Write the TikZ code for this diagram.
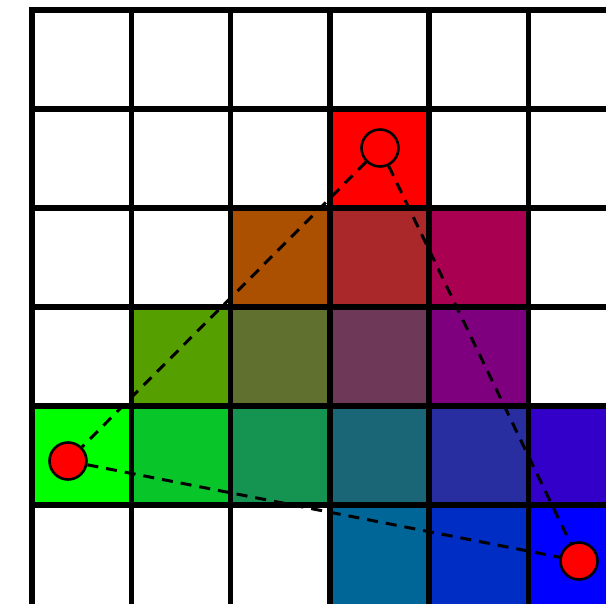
\documentclass[tikz,border=0pt]{standalone}
\begin{document}
\begin{tikzpicture}[x=1pt,y=-1pt,
  gridline/.style={line width=5.5pt,black},
  edgeline/.style={line width=3pt,dash pattern=on 11pt off 8pt,black},
  vertex/.style={circle,draw=black,line width=2.6pt,fill=red,minimum size=37pt,inner sep=0pt}]
\useasboundingbox (0,0) rectangle (606,604);
\fill[white] (0,0) rectangle (606,604);
\def\cs{99.3}
% colours
\definecolor{c13}{RGB}{255,0,0}
\definecolor{c22}{RGB}{170,80,0}
\definecolor{c23}{RGB}{170,40,42}
\definecolor{c24}{RGB}{170,0,82}
\definecolor{c31}{RGB}{85,160,0}
\definecolor{c32}{RGB}{95,112,47}
\definecolor{c33}{RGB}{110,56,88}
\definecolor{c34}{RGB}{127,0,127}
\definecolor{c40}{RGB}{0,255,0}
\definecolor{c41}{RGB}{8,198,42}
\definecolor{c42}{RGB}{20,148,80}
\definecolor{c43}{RGB}{26,102,118}
\definecolor{c44}{RGB}{40,45,160}
\definecolor{c45}{RGB}{50,0,200}
\definecolor{c53}{RGB}{0,102,152}
\definecolor{c54}{RGB}{0,45,195}
\definecolor{c55}{RGB}{0,0,255}
\foreach \r/\c in {1/3,2/2,2/3,2/4,3/1,3/2,3/3,3/4,4/0,4/1,4/2,4/3,4/4,4/5,5/3,5/4,5/5}{
  \fill[c\r\c] ({32+\c*\cs},{10+\r*99}) rectangle ++(\cs,99);
}
% grid
\foreach \i in {0,...,6}{
  \draw[gridline] ({32+\i*\cs},7.25) -- ({32+\i*\cs},610);
}
\foreach \i in {0,...,5}{
  \draw[gridline] (29.25,{10+\i*99}) -- (610,{10+\i*99});
}
% vertices
\node[vertex] (R) at (380,148) {};
\node[vertex] (G) at (68,461) {};
\node[vertex] (B) at (579,561) {};
\draw[edgeline] (R) -- (G);
\draw[edgeline] (G) -- (B);
\draw[edgeline] (R) -- (B);
\end{tikzpicture}
\end{document}
